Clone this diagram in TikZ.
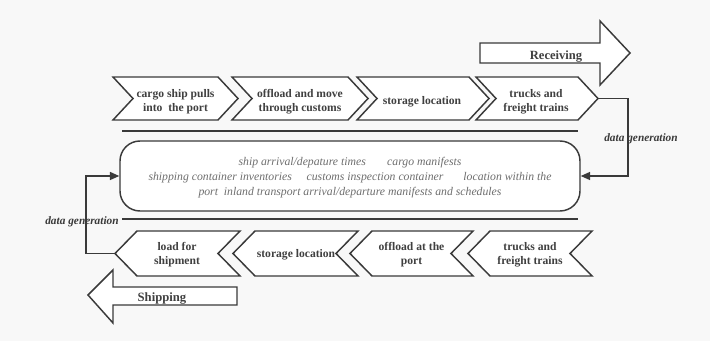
\documentclass[tikz,border=0pt]{standalone}
\usepackage{fontspec}
\setmainfont{Liberation Serif}
\usetikzlibrary{arrows.meta}
\definecolor{ink}{HTML}{3A3A3A}
\definecolor{txt}{HTML}{404040}
\definecolor{soft}{HTML}{6E6E6E}
\definecolor{paper}{HTML}{F8F8F8}
\begin{document}
\begin{tikzpicture}[x=0.75pt, y=-0.75pt,
  every node/.style={font=\fontsize{8.7}{10.5}\selectfont\bfseries, text=txt, align=center, inner sep=0pt},
  chev/.style={draw=ink, line width=1.1pt, fill=white},
  bigarrow/.style={draw=ink, line width=1.1pt, fill=white},
  rule/.style={draw=ink, line width=1.8pt},
  flow/.style={draw=ink, line width=1.1pt, -{Triangle[length=7pt,width=6pt]}},
  gen/.style={font=\fontsize{8.5}{10}\selectfont\bfseries\itshape, text=ink}]
  % background
  \fill[paper] (0,0) rectangle (710,341);
  % receiving arrow
  \draw[bigarrow] (480,43) -- (600,43) -- (600,21) -- (630,53) -- (600,85) -- (600,63) -- (480,63) -- cycle;
  \node (recv) at (556,57) {\fontsize{9.4}{10}\selectfont Receiving};
  % receiving chain
  \draw[chev] (113,77) -- (218,77) -- (238,98.5) -- (218,120) -- (113,120) -- (133,98.5) -- cycle;
  \node (in1) at (175.5,102) {cargo ship pulls\\into\ \ the port};
  \draw[chev] (232,77) -- (348,77) -- (368,98.5) -- (348,120) -- (232,120) -- (252,98.5) -- cycle;
  \node (in2) at (300,102) {offload and move\\through customs};
  \draw[chev] (357,77) -- (469,77) -- (489,98.5) -- (469,120) -- (357,120) -- (377,98.5) -- cycle;
  \node (in3) at (422,102) {storage location};
  \draw[chev] (476,77) -- (578,77) -- (598,98.5) coordinate (in4tip) -- (578,120) -- (476,120) -- (496,98.5) -- cycle;
  \node (in4) at (536,102) {trucks and\\freight trains};
  % rules
  \draw[rule] (122,131) -- (578,131);
  \draw[rule] (122,219) -- (578,219);
  % data store
  \node[draw=ink, line width=1.1pt, fill=white, rounded corners=15pt,
    minimum width=345pt, minimum height=52.5pt] (info) at (350,176) {};
  \node[font=\fontsize{8.8}{11.25}\selectfont\itshape, text=soft] (infotext) at (350,178)
    {ship arrival/depature times\hspace{16pt}cargo manifests\\
     shipping container inventories\hspace{11pt}customs inspection container\hspace{15pt}location within the\\
     port\ \ inland transport arrival/departure manifests and schedules};
  % shipping chain
  \draw[chev] (115,253.5) coordinate (out1tip) -- (137,231) -- (240,231) -- (218,253.5) -- (240,276) -- (137,276) -- cycle;
  \node (out1) at (177,255) {load for\\shipment};
  \draw[chev] (233,253.5) -- (255,231) -- (358,231) -- (336,253.5) -- (358,276) -- (255,276) -- cycle;
  \node (out2) at (296,255) {storage location};
  \draw[chev] (350,253.5) -- (372,231) -- (473,231) -- (451,253.5) -- (473,276) -- (372,276) -- cycle;
  \node (out3) at (411.5,255) {offload at the\\port};
  \draw[chev] (468,253.5) -- (490,231) -- (592,231) -- (570,253.5) -- (592,276) -- (490,276) -- cycle;
  \node (out4) at (530,255) {trucks and\\freight trains};
  % data generation
  \coordinate (kneeR) at (628,98.5);
  \coordinate (kneeL) at (86,253.5);
  \draw[flow] (in4tip) -- (kneeR) |- (info.east);
  \draw[flow] (out1tip) -- (kneeL) |- (info.west);
  \node[gen] (genR) at (641,139) {data generation};
  \node[gen] (genL) at (82,222) {data generation};
  % shipping arrow
  \draw[bigarrow] (88,295) -- (113,270) -- (113,287) -- (237,287) -- (237,305) -- (113,305) -- (113,323) -- cycle;
  \node (ship) at (162,299) {\fontsize{9.5}{10}\selectfont Shipping};
\end{tikzpicture}
\end{document}
